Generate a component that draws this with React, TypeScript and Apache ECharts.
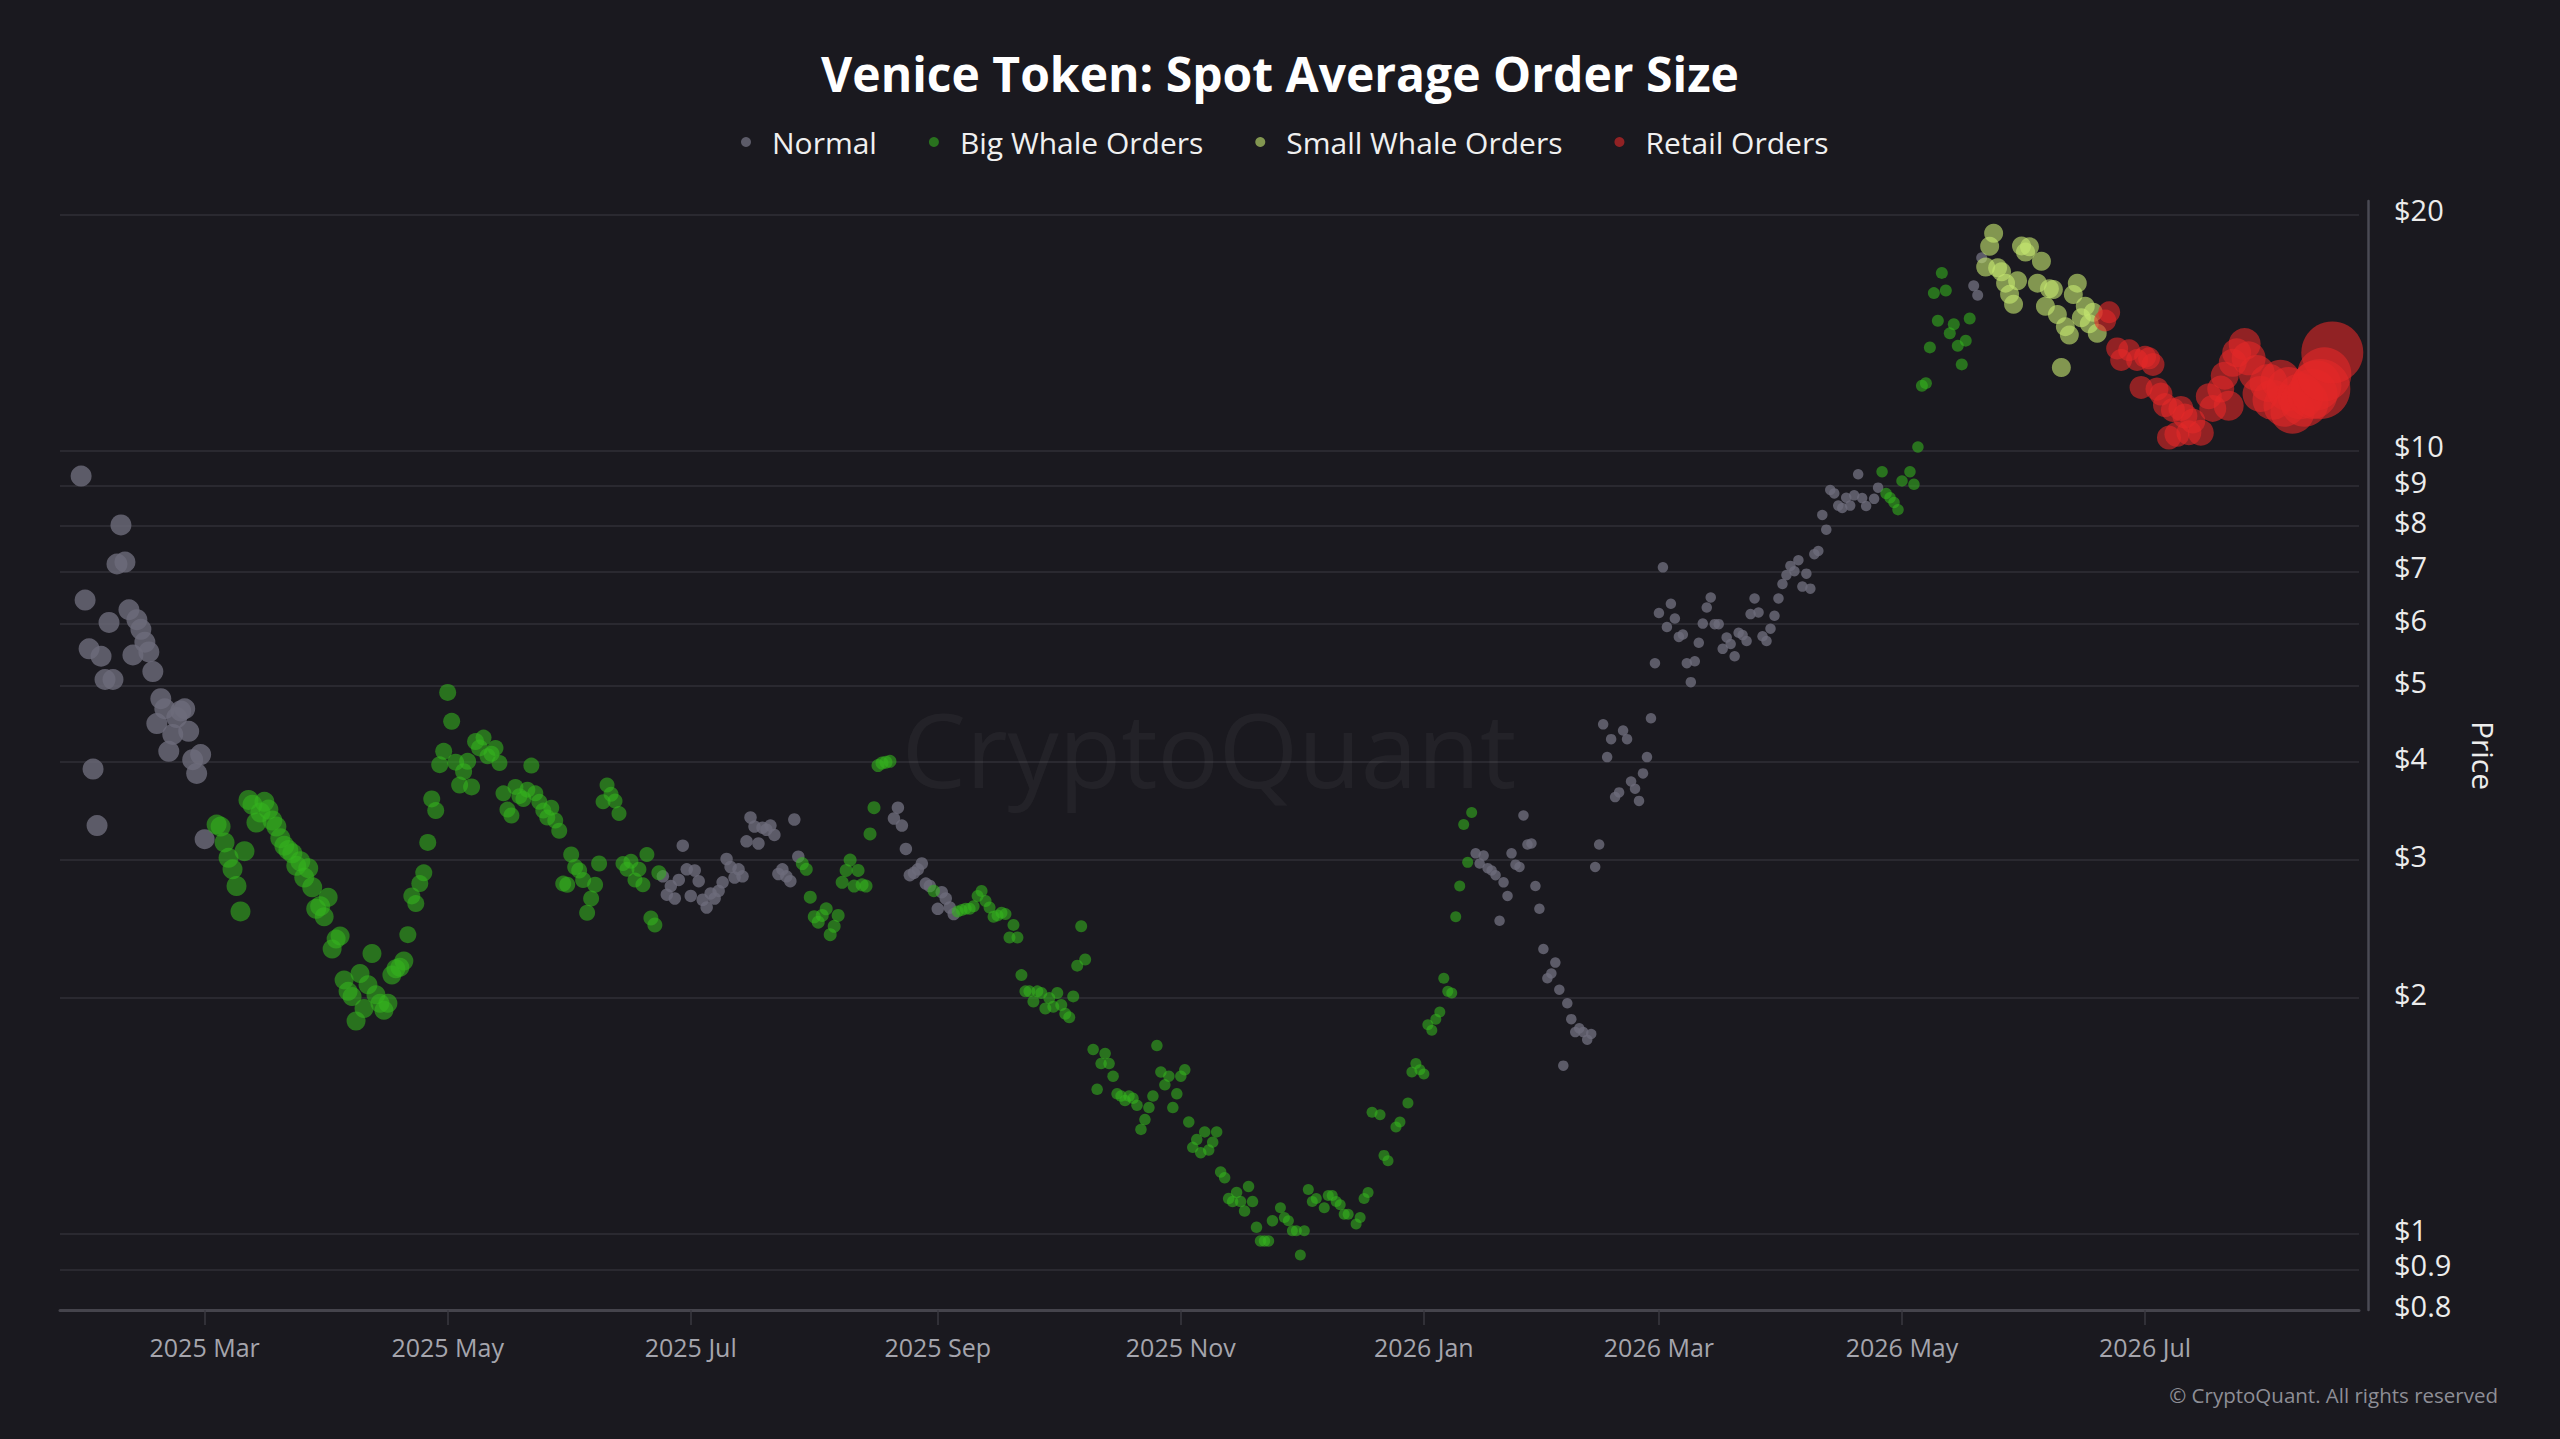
import React, { useEffect, useRef } from "react";
import * as echarts from "echarts";

const FONT = '"Open Sans", "Noto Sans", sans-serif';
const BG = "#1a191f";
const START = Date.UTC(2025, 0, 29);
const DAY = 86400000;

const TITLE = "Venice Token: Spot Average Order Size";
const seriesNames = ["Normal", "Big Whale Orders", "Small Whale Orders", "Retail Orders"];
const seriesColors = ["#6d6c7a", "rgba(52,180,30,0.72)", "rgba(198,232,112,0.76)", "rgba(228,40,40,0.74)"];
const yTickPrices = [0.8, 0.9, 1, 2, 3, 4, 5, 6, 7, 8, 9, 10, 20];
const xTickDates = [
  [2025, 2], [2025, 4], [2025, 6], [2025, 8], [2025, 10],
  [2026, 0], [2026, 2], [2026, 4], [2026, 6],
];
const MONTHS = ["Jan", "Feb", "Mar", "Apr", "May", "Jun", "Jul", "Aug", "Sep", "Oct", "Nov", "Dec"];

// [day offset from 2025-01-29, price in USD, bubble size]
const normalPoints = [
  [0, 9.27, 21], [1, 6.44, 21], [2, 5.58, 21], [3, 3.92, 21], [4, 3.32, 21], [5, 5.46, 21], [6, 5.1, 21],
  [7, 6.03, 21], [8, 5.1, 21], [9, 7.16, 21], [10, 8.03, 21], [11, 7.2, 21], [12, 6.26, 21], [13, 5.48, 21],
  [14, 6.08, 21], [15, 5.91, 21], [16, 5.69, 21], [17, 5.53, 21], [18, 5.22, 21], [19, 4.48, 21], [20, 4.82, 21],
  [21, 4.68, 21], [22, 4.13, 21], [23, 4.34, 21], [24, 4.56, 21], [25, 4.65, 21], [26, 4.68, 21], [27, 4.38, 21],
  [28, 4.03, 21], [29, 3.87, 21], [30, 4.09, 21], [31, 3.19, 20],
  [146, 2.86, 12.5], [147, 2.71, 12.5], [148, 2.78, 12.5], [149, 2.68, 12.5], [150, 2.83, 12.5], [151, 3.13, 12.5],
  [152, 2.92, 12.5], [153, 2.7, 12.5], [154, 2.91, 12.5], [155, 2.82, 12.5], [156, 2.67, 12.5], [157, 2.61, 12.5],
  [158, 2.72, 12.5], [159, 2.68, 12.5], [160, 2.74, 12.5], [161, 2.81, 12.5], [162, 3.01, 12.5], [163, 2.94, 12.5],
  [164, 2.85, 12.5], [165, 2.92, 12.5], [166, 2.86, 12.5], [167, 3.17, 12.5], [168, 3.4, 12.5], [169, 3.31, 12.5],
  [170, 3.15, 12.5], [171, 3.3, 12.5], [172, 3.28, 12.5], [173, 3.32, 12.5], [174, 3.23, 12.5], [175, 2.88, 12.5],
  [176, 2.92, 12.5], [177, 2.86, 12.5], [178, 2.82, 12.5], [179, 3.38, 12.5], [180, 3.03, 12.5],
  [204, 3.39, 12.5], [205, 3.5, 12.5], [206, 3.32, 12.5], [207, 3.1, 12.5], [208, 2.87, 12.5], [209, 2.89, 12.5],
  [210, 2.92, 12.5], [211, 2.97, 12.5], [212, 2.8, 12.5], [213, 2.78, 12.5], [215, 2.6, 12.5], [216, 2.73, 12.5],
  [217, 2.68, 12.5], [218, 2.61, 12.5], [219, 2.56, 12.5],
  [350, 3.06, 10.5], [351, 2.97, 10.5], [352, 3.04, 10.5], [353, 2.93, 10.5], [354, 2.91, 10.5], [355, 2.87, 10.5],
  [356, 2.51, 10.5], [357, 2.81, 10.5], [358, 2.7, 10.5], [359, 3.06, 10.5], [360, 2.96, 10.5], [361, 2.94, 10.5],
  [362, 3.42, 10.5], [363, 3.14, 10.5], [364, 3.15, 10.5], [365, 2.78, 10.5], [366, 2.6, 10.5], [367, 2.31, 10.5],
  [368, 2.12, 10.5], [369, 2.15, 10.5], [370, 2.22, 10.5], [371, 2.05, 10.5], [372, 1.64, 10.5], [373, 1.97, 10.5],
  [374, 1.88, 10.5], [375, 1.81, 10.5], [376, 1.83, 10.5], [377, 1.81, 10.5], [378, 1.77, 10.5], [379, 1.8, 10.5],
  [380, 2.94, 10.5], [381, 3.14, 10.5], [382, 4.47, 10.5], [383, 4.06, 10.5], [384, 4.28, 10.5], [385, 3.61, 10.5],
  [386, 3.66, 10.5], [387, 4.39, 10.5], [388, 4.28, 10.5], [389, 3.78, 10.5], [390, 3.7, 10.5], [391, 3.57, 10.5],
  [392, 3.87, 10.5], [393, 4.06, 10.5], [394, 4.55, 10.5],
  [395, 5.35, 10.5], [396, 6.2, 10.5], [397, 7.09, 10.5], [398, 5.95, 10.5], [399, 6.37, 10.5], [400, 6.1, 10.5],
  [401, 5.78, 10.5], [402, 5.82, 10.5], [403, 5.35, 10.5], [404, 5.06, 10.5], [405, 5.38, 10.5], [406, 5.68, 10.5],
  [407, 6.01, 10.5], [408, 6.3, 10.5], [409, 6.49, 10.5], [410, 6.0, 10.5], [411, 6.0, 10.5], [412, 5.58, 10.5],
  [413, 5.77, 10.5], [414, 5.66, 10.5], [415, 5.46, 10.5], [416, 5.85, 10.5], [417, 5.81, 10.5], [418, 5.71, 10.5],
  [419, 6.18, 10.5], [420, 6.47, 10.5], [421, 6.21, 10.5], [422, 5.79, 10.5], [423, 5.71, 10.5], [424, 5.92, 10.5],
  [425, 6.15, 10.5], [426, 6.47, 10.5], [427, 6.75, 10.5], [428, 6.93, 10.5], [429, 7.12, 10.5], [430, 7.01, 10.5],
  [431, 7.24, 10.5], [432, 6.7, 10.5], [433, 6.96, 10.5], [434, 6.66, 10.5], [435, 7.37, 10.5], [436, 7.44, 10.5],
  [437, 8.27, 10.5], [438, 7.92, 10.5], [439, 8.9, 10.5], [440, 8.81, 10.5], [441, 8.5, 10.5], [442, 8.44, 10.5],
  [443, 8.7, 10.5], [444, 8.5, 10.5], [445, 8.76, 10.5], [446, 9.32, 10.5], [447, 8.69, 10.5], [448, 8.49, 10.5],
  [450, 8.67, 10.5], [451, 8.96, 10.5],
  [475, 16.21, 11], [476, 15.77, 11], [477, 17.61, 11],
];

const bigWhalePoints = [
  [34, 3.33, 20], [35, 3.31, 20], [36, 3.16, 20], [37, 3.02, 20], [38, 2.92, 20], [39, 2.78, 20], [40, 2.58, 20],
  [41, 3.08, 20], [42, 3.58, 20], [43, 3.53, 20], [44, 3.35, 20], [45, 3.45, 20], [46, 3.56, 20], [47, 3.48, 20],
  [48, 3.37, 20], [49, 3.31, 20], [50, 3.2, 20], [51, 3.13, 20], [52, 3.09, 20], [53, 3.06, 20], [54, 2.95, 20],
  [55, 2.99, 20], [56, 2.85, 20], [57, 2.93, 20], [58, 2.77, 20], [59, 2.6, 20], [60, 2.62, 20],
  [61, 2.54, 19], [62, 2.69, 19], [63, 2.31, 19], [64, 2.38, 19], [65, 2.4, 19], [66, 2.11, 19], [67, 2.04, 19],
  [68, 2.01, 19], [69, 1.87, 19], [70, 2.15, 19], [71, 1.94, 19], [72, 2.08, 19], [73, 2.28, 19], [74, 2.02, 19],
  [75, 1.97, 19], [76, 1.93, 19], [77, 1.97, 19], [78, 2.14, 19], [79, 2.18, 19], [80, 2.19, 19], [81, 2.23, 19],
  [82, 2.41, 17], [83, 2.7, 17], [84, 2.64, 17], [85, 2.8, 17], [86, 2.89, 17], [87, 3.16, 17], [88, 3.59, 17],
  [89, 3.47, 17], [90, 3.97, 17], [91, 4.13, 17], [92, 4.91, 17], [93, 4.51, 17], [94, 4.0, 17], [95, 3.74, 17],
  [96, 3.89, 17], [97, 4.01, 17], [98, 3.72, 17], [99, 4.25, 17], [100, 4.17, 17],
  [101, 4.3, 16], [102, 4.07, 16], [103, 4.1, 16], [104, 4.17, 16], [105, 3.99, 16], [106, 3.65, 16], [107, 3.48, 16],
  [108, 3.42, 16], [109, 3.72, 16], [110, 3.62, 16], [111, 3.59, 16], [112, 3.69, 16], [113, 3.96, 16], [114, 3.65, 16],
  [115, 3.56, 16], [116, 3.47, 16], [117, 3.4, 16], [118, 3.5, 16], [119, 3.37, 16], [120, 3.27, 16], [121, 2.8, 16],
  [122, 2.79, 16], [123, 3.05, 16], [124, 2.94, 16], [125, 2.91, 16], [126, 2.83, 16], [127, 2.57, 16], [128, 2.68, 16],
  [129, 2.79, 16], [130, 2.97, 16],
  [131, 3.56, 15], [132, 3.74, 15], [133, 3.64, 15], [134, 3.57, 15], [135, 3.44, 15], [136, 2.97, 15], [137, 2.92, 15],
  [138, 2.99, 15], [139, 2.83, 15], [140, 2.92, 15], [141, 2.79, 15], [142, 3.05, 15], [143, 2.53, 15], [144, 2.48, 15],
  [145, 2.89, 15],
  [181, 2.97, 13], [182, 2.92, 13], [183, 2.69, 13], [184, 2.54, 13], [185, 2.5, 13], [186, 2.55, 13], [187, 2.6, 13],
  [188, 2.41, 13], [189, 2.47, 13], [190, 2.55, 13], [191, 2.81, 13], [192, 2.91, 13], [193, 3.0, 13], [194, 2.78, 13],
  [195, 2.91, 13], [196, 2.79, 13], [197, 2.78, 13], [198, 3.24, 13], [199, 3.5, 13], [200, 3.96, 13], [201, 3.99, 13],
  [202, 4.0, 13], [203, 4.01, 13],
  [214, 2.74, 12.5],
  [220, 2.58, 12], [221, 2.59, 12], [222, 2.6, 12], [223, 2.6, 12], [224, 2.62, 12], [225, 2.7, 12], [226, 2.74, 12],
  [227, 2.66, 12], [228, 2.61, 12], [229, 2.54, 12], [230, 2.55, 12], [231, 2.57, 12], [232, 2.56, 12], [233, 2.39, 12],
  [234, 2.48, 12], [235, 2.39, 12], [236, 2.14, 12], [237, 2.04, 12], [238, 2.04, 12], [239, 1.98, 12], [240, 2.04, 12],
  [241, 2.03, 12], [242, 1.94, 12], [243, 2.0, 12], [244, 1.95, 12], [245, 2.03, 12], [246, 1.96, 12], [247, 1.91, 12],
  [248, 1.89, 12], [249, 2.01, 12], [250, 2.2, 12], [251, 2.47, 12], [252, 2.24, 12],
  [254, 1.72, 11.5], [255, 1.53, 11.5], [256, 1.65, 11.5], [257, 1.7, 11.5], [258, 1.65, 11.5], [259, 1.59, 11.5],
  [260, 1.51, 11.5], [261, 1.5, 11.5], [262, 1.48, 11.5], [263, 1.5, 11.5], [264, 1.49, 11.5], [265, 1.46, 11.5],
  [266, 1.36, 11.5], [267, 1.4, 11.5], [268, 1.45, 11.5], [269, 1.5, 11.5], [270, 1.74, 11.5], [271, 1.61, 11.5],
  [272, 1.55, 11.5], [273, 1.59, 11.5], [274, 1.45, 11.5], [275, 1.51, 11.5], [276, 1.59, 11.5], [277, 1.62, 11.5],
  [278, 1.39, 11.5], [279, 1.29, 11.5], [280, 1.32, 11.5], [281, 1.27, 11.5], [282, 1.35, 11.5], [283, 1.28, 11.5],
  [284, 1.31, 11.5], [285, 1.35, 11.5], [286, 1.2, 11.5], [287, 1.18, 11.5], [288, 1.11, 11.5], [289, 1.1, 11.5],
  [290, 1.13, 11.5], [291, 1.1, 11.5], [292, 1.07, 11.5], [293, 1.15, 11.5], [294, 1.1, 11.5], [295, 1.02, 11.5],
  [296, 0.98, 11.5], [297, 0.98, 11.5], [298, 0.98, 11.5], [299, 1.04, 11.5],
  [301, 1.08, 11], [302, 1.05, 11], [303, 1.04, 11], [304, 1.01, 11], [305, 1.01, 11], [306, 0.94, 11], [307, 1.01, 11],
  [308, 1.14, 11], [309, 1.1, 11], [310, 1.11, 11], [312, 1.08, 11], [313, 1.12, 11], [314, 1.12, 11], [315, 1.1, 11],
  [316, 1.09, 11], [317, 1.06, 11], [318, 1.06, 11], [320, 1.03, 11], [321, 1.05, 11], [322, 1.11, 11], [323, 1.13, 11],
  [324, 1.43, 11], [326, 1.42, 11], [327, 1.26, 11], [328, 1.24, 11], [330, 1.37, 11], [331, 1.39, 11], [333, 1.47, 11],
  [334, 1.61, 11], [335, 1.65, 11], [336, 1.62, 11], [337, 1.6, 11], [338, 1.85, 11], [339, 1.82, 11], [340, 1.88, 11],
  [341, 1.92, 11], [342, 2.12, 11], [343, 2.04, 11], [344, 2.03, 11], [345, 2.54, 11], [346, 2.78, 11], [347, 3.33, 11],
  [348, 2.98, 11], [349, 3.45, 11],
  [452, 9.39, 11.5], [453, 8.81, 11.5], [454, 8.7, 11.5], [455, 8.58, 11.5], [456, 8.4, 11.5], [457, 9.14, 11.5],
  [459, 9.39, 11.5], [460, 9.05, 11.5], [461, 10.1, 11.5],
  [462, 12.09, 12], [463, 12.18, 12], [464, 13.53, 12], [465, 15.87, 12], [466, 14.63, 12], [467, 16.84, 12],
  [468, 15.99, 12], [469, 14.1, 12], [470, 14.48, 12], [471, 13.59, 12], [472, 12.87, 12], [473, 13.8, 12],
  [474, 14.73, 12],
];

const smallWhalePoints = [
  [478, 17.13, 19], [479, 18.21, 19], [480, 18.92, 19], [481, 17.1, 19], [482, 16.9, 19], [483, 16.34, 19],
  [484, 15.81, 19], [485, 15.36, 19], [486, 16.46, 19], [487, 18.23, 19], [488, 17.9, 19], [489, 18.18, 19],
  [490, 20.84, 19], [491, 16.34, 19], [492, 17.43, 19], [493, 15.27, 19], [494, 16.07, 19], [495, 16.04, 19],
  [496, 14.9, 19], [497, 12.75, 19], [498, 14.38, 19], [499, 14.03, 19], [500, 15.8, 19], [501, 16.34, 19],
  [502, 14.76, 19], [503, 15.27, 19], [504, 14.5, 19], [505, 15.0, 19], [506, 14.1, 19],
];

const retailPoints = [
  [508, 14.64, 22], [509, 15.0, 22], [511, 13.49, 22], [512, 13.04, 22], [514, 13.42, 22], [516, 13.04, 22],
  [517, 12.03, 23], [518, 13.16, 22], [519, 13.1, 22], [520, 12.87, 23], [521, 11.97, 23], [522, 11.8, 23],
  [523, 11.42, 24], [524, 10.38, 24], [525, 11.26, 24], [526, 10.48, 25], [527, 11.31, 25], [528, 11.06, 25],
  [529, 10.53, 25], [530, 10.9, 25], [532, 10.53, 26], [534, 11.72, 26], [535, 11.31, 27], [537, 11.97, 27],
  [538, 12.45, 28], [539, 11.4, 30], [540, 12.93, 28], [541, 13.32, 29], [543, 13.66, 32], [544, 13.1, 34],
  [546, 12.55, 36], [547, 11.8, 36], [549, 12.19, 38], [550, 11.6, 40], [552, 12.3, 40], [553, 11.4, 42],
  [554, 11.97, 44], [555, 11.2, 44], [557, 11.72, 46], [558, 11.5, 48], [560, 11.8, 50], [561, 12.1, 50],
  [562, 11.97, 60], [563, 12.5, 54], [565, 13.33, 62],
];

const seriesPoints = [normalPoints, bigWhalePoints, smallWhalePoints, retailPoints];

function fmtPrice(v: number) {
  const p = Math.pow(10, v);
  const r = p < 1 ? Math.round(p * 10) / 10 : Math.round(p);
  return "$" + r;
}

function fmtMonth(val: number) {
  const dt = new Date(val);
  return dt.getUTCFullYear() + " " + MONTHS[dt.getUTCMonth()];
}

export default function App() {
  const ref = useRef<HTMLDivElement>(null);

  useEffect(() => {
    document.body.style.margin = "0";
    document.body.style.overflow = "hidden";
    document.body.style.background = BG;
    if (!ref.current) return;
    const chart = echarts.init(ref.current, null, { renderer: "svg" });

    const yTicks = yTickPrices.map((p) => Math.log10(p));
    const xTicks = xTickDates.map(([y, m]) => Date.UTC(y, m, 1));

    const series = seriesNames.map((name, i) => ({
      name,
      type: "scatter",
      data: seriesPoints[i].map(([d, p, s]) => [START + d * DAY, Math.log10(p), s]),
      symbolSize: (v: number[]) => v[2],
      itemStyle: { color: seriesColors[i] },
      emphasis: { disabled: true },
      z: 3 + i,
    }));

    const option = {
      animation: false,
      backgroundColor: BG,
      textStyle: { fontFamily: FONT },
      title: {
        text: TITLE,
        left: "center",
        top: 44,
        textStyle: { color: "#ffffff", fontSize: 48, fontWeight: "bold", fontFamily: FONT },
      },
      legend: {
        data: seriesNames,
        top: 122,
        left: 736,
        icon: "circle",
        itemWidth: 42,
        itemHeight: 10,
        itemGap: 52,
        textStyle: { color: "#f0f0f0", fontSize: 30, fontFamily: FONT },
      },
      grid: { left: 60, right: 201, top: 201, bottom: 129 },
      xAxis: {
        type: "value",
        min: START - 5.3 * DAY,
        max: START + 571.7 * DAY,
        axisLine: { show: true, onZero: false, lineStyle: { color: "#45444c", width: 3 } },
        axisTick: { show: true, customValues: xTicks, length: 15, lineStyle: { color: "#3a3940", width: 1.5 } },
        axisLabel: {
          customValues: xTicks,
          formatter: fmtMonth,
          color: "#a5a5ad",
          fontSize: 25,
          margin: 24,
          fontFamily: FONT,
        },
        splitLine: { show: false },
      },
      yAxis: {
        type: "value",
        position: "right",
        offset: 9,
        min: Math.log10(0.8),
        max: Math.log10(20.8),
        axisLine: { show: true, onZero: false, lineStyle: { color: "#4a4a54", width: 2.5 } },
        axisTick: { show: false, customValues: yTicks },
        axisLabel: {
          customValues: yTicks,
          formatter: fmtPrice,
          color: "#ececec",
          fontSize: 29,
          margin: 26,
          verticalAlign: "bottom",
          lineHeight: 10,
          fontFamily: FONT,
        },
        splitLine: { show: true, lineStyle: { color: "#2a2930", width: 2 } },
        name: "Price",
        nameLocation: "middle",
        nameRotate: -90,
        nameGap: 100,
        nameTextStyle: { color: "#ececec", fontSize: 30, fontFamily: FONT },
      },
      graphic: [
        {
          type: "text",
          x: 1209,
          y: 748,
          z: 1,
          silent: true,
          style: {
            text: "CryptoQuant",
            fill: "rgba(255,255,255,0.045)",
            fontSize: 102,
            fontWeight: 500,
            fontFamily: FONT,
            textAlign: "center",
            align: "center",
            textVerticalAlign: "middle",
            verticalAlign: "middle",
          },
        },
        {
          type: "text",
          x: 2498,
          y: 1395,
          silent: true,
          style: {
            text: "© CryptoQuant. All rights reserved",
            fill: "#8e8e96",
            fontSize: 20.5,
            fontFamily: FONT,
            textAlign: "right",
            align: "right",
            textVerticalAlign: "middle",
            verticalAlign: "middle",
          },
        },
      ],
      series,
    };

    chart.setOption(option as any);
    return () => chart.dispose();
  }, []);

  return <div ref={ref} style={{ width: 2560, height: 1439, background: BG }} />;
}
